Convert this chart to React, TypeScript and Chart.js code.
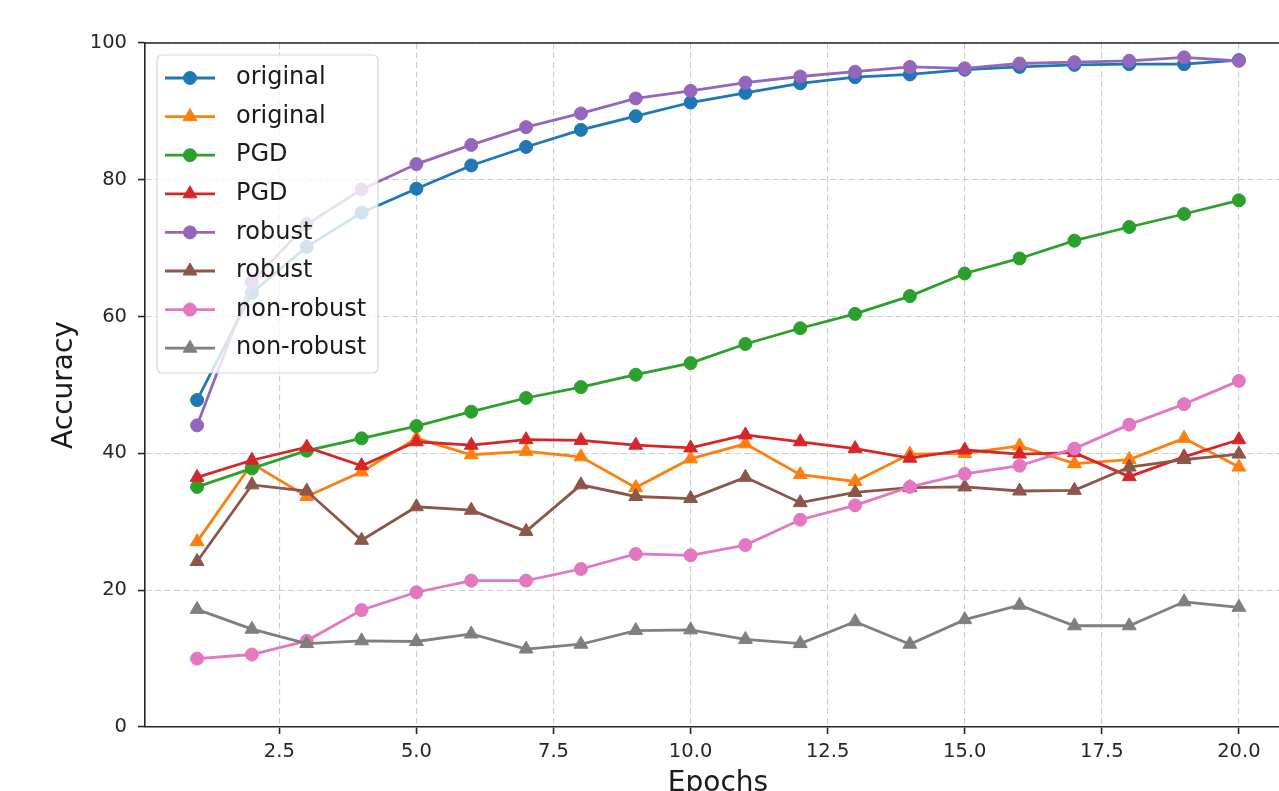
import React, { useEffect, useRef } from "react";
import { Chart, registerables } from "chart.js";

Chart.register(...registerables);

const epochs = [1, 2, 3, 4, 5, 6, 7, 8, 9, 10, 11, 12, 13, 14, 15, 16, 17, 18, 19, 20];
const xTicks = [2.5, 5, 7.5, 10, 12.5, 15, 17.5, 20];
const yTicks = [0, 20, 40, 60, 80, 100];

const originalCirc = [47.8, 63.5, 70.2, 75.2, 78.7, 82.1, 84.8, 87.3, 89.3, 91.3, 92.7, 94.1, 95.0, 95.4, 96.1, 96.5, 96.8, 96.9, 96.9, 97.5];
const originalTri = [27.1, 38.5, 33.7, 37.3, 42.2, 39.8, 40.3, 39.5, 35.0, 39.2, 41.4, 36.9, 35.9, 39.9, 40.0, 41.1, 38.5, 39.1, 42.2, 38.0];
const pgdCirc = [35.1, 37.8, 40.4, 42.2, 44.0, 46.1, 48.1, 49.7, 51.5, 53.2, 56.0, 58.3, 60.4, 63.0, 66.3, 68.5, 71.1, 73.1, 75.0, 77.0];
const pgdTri = [36.5, 39.0, 40.9, 38.2, 41.7, 41.2, 42.0, 41.9, 41.2, 40.8, 42.7, 41.7, 40.7, 39.3, 40.5, 39.9, 40.1, 36.6, 39.5, 42.0];
const robustCirc = [44.1, 65.1, 73.5, 78.6, 82.3, 85.1, 87.7, 89.7, 91.9, 93.0, 94.2, 95.1, 95.8, 96.5, 96.3, 97.0, 97.2, 97.4, 97.9, 97.4];
const robustTri = [24.2, 35.4, 34.5, 27.3, 32.2, 31.7, 28.6, 35.4, 33.7, 33.4, 36.5, 32.8, 34.3, 35.0, 35.1, 34.5, 34.6, 38.0, 39.1, 39.9];
const nonRobustCirc = [10.0, 10.6, 12.6, 17.1, 19.7, 21.4, 21.4, 23.1, 25.3, 25.1, 26.6, 30.3, 32.4, 35.1, 37.0, 38.2, 40.7, 44.2, 47.2, 50.6];
const nonRobustTri = [17.2, 14.3, 12.2, 12.6, 12.5, 13.6, 11.4, 12.1, 14.1, 14.2, 12.8, 12.2, 15.4, 12.1, 15.7, 17.8, 14.8, 14.8, 18.3, 17.5];

const seriesLabels = ["original", "original", "PGD", "PGD", "robust", "robust", "non-robust", "non-robust"];
const seriesValues = [originalCirc, originalTri, pgdCirc, pgdTri, robustCirc, robustTri, nonRobustCirc, nonRobustTri];
const seriesColors = ["#1f77b4", "#ff7f0e", "#2ca02c", "#d62728", "#9467bd", "#8c564b", "#e377c2", "#7f7f7f"];
const seriesMarkers = ["circle", "triangle", "circle", "triangle", "circle", "triangle", "circle", "triangle"];

const FONT = "'DejaVu Sans', 'Liberation Sans', sans-serif";
const CW = 1300;
const CH = 820;

function markerRadius(style: string) {
  return style === "triangle" ? 8 : 6.5;
}

const framePlugin = {
  id: "frame",
  afterDatasetsDraw(chart: any) {
    const { ctx, chartArea } = chart;
    ctx.save();
    ctx.setLineDash([]);
    ctx.strokeStyle = "#262626";
    ctx.lineWidth = 1.6;
    ctx.beginPath();
    ctx.moveTo(chartArea.left, chartArea.top);
    ctx.lineTo(chartArea.right, chartArea.top);
    ctx.lineTo(chartArea.right, chartArea.bottom);
    ctx.stroke();
    ctx.restore();
  },
};

const legendPlugin = {
  id: "mplLegend",
  afterDraw(chart: any) {
    const { ctx } = chart;
    const bx = 157, by = 55, bw = 221, bh = 318, r = 5;
    ctx.save();
    ctx.setLineDash([]);
    ctx.beginPath();
    ctx.moveTo(bx + r, by);
    ctx.lineTo(bx + bw - r, by);
    ctx.arcTo(bx + bw, by, bx + bw, by + r, r);
    ctx.lineTo(bx + bw, by + bh - r);
    ctx.arcTo(bx + bw, by + bh, bx + bw - r, by + bh, r);
    ctx.lineTo(bx + r, by + bh);
    ctx.arcTo(bx, by + bh, bx, by + bh - r, r);
    ctx.lineTo(bx, by + r);
    ctx.arcTo(bx, by, bx + r, by, r);
    ctx.closePath();
    ctx.fillStyle = "rgba(255,255,255,0.8)";
    ctx.fill();
    ctx.strokeStyle = "rgba(204,204,204,0.8)";
    ctx.lineWidth = 1.2;
    ctx.stroke();

    chart.data.datasets.forEach((ds: any, i: number) => {
      const cy = 78 + i * 38.6;
      ctx.strokeStyle = ds.borderColor;
      ctx.lineWidth = 2.8;
      ctx.beginPath();
      ctx.moveTo(165, cy);
      ctx.lineTo(215, cy);
      ctx.stroke();
      ctx.fillStyle = ds.backgroundColor;
      ctx.strokeStyle = ds.borderColor;
      ctx.lineWidth = 1;
      const st = ds.pointStyle;
      const rad = markerRadius(st);
      ctx.beginPath();
      if (st === "triangle") {
        ctx.moveTo(190, cy - rad);
        ctx.lineTo(190 + rad * Math.sin(Math.PI * 2 / 3), cy - rad * Math.cos(Math.PI * 2 / 3));
        ctx.lineTo(190 + rad * Math.sin(Math.PI * 4 / 3), cy - rad * Math.cos(Math.PI * 4 / 3));
        ctx.closePath();
      } else {
        ctx.arc(190, cy, rad, 0, Math.PI * 2);
      }
      ctx.fill();
      ctx.stroke();
      ctx.fillStyle = "#1a1a1a";
      ctx.font = `24px ${FONT}`;
      ctx.textBaseline = "middle";
      ctx.textAlign = "left";
      ctx.fillText(ds.label, 236, cy);
    });
    ctx.restore();
  },
};

export default function App() {
  const ref = useRef<HTMLCanvasElement | null>(null);

  useEffect(() => {
    if (!ref.current) return;
    const datasets = seriesValues.map((vals, i) => ({
      label: seriesLabels[i],
      data: epochs.map((e, j) => ({ x: e, y: vals[j] })),
      borderColor: seriesColors[i],
      backgroundColor: seriesColors[i],
      pointBackgroundColor: seriesColors[i],
      pointBorderColor: seriesColors[i],
      pointStyle: seriesMarkers[i],
      pointRadius: markerRadius(seriesMarkers[i]),
      pointBorderWidth: 1,
      borderWidth: 2.8,
      tension: 0,
      fill: false,
      order: -i,
    }));

    const gridCommon = {
      color: "rgba(195,195,195,0.85)",
      lineWidth: 1.1,
      tickColor: "#262626",
      tickWidth: 1.6,
      tickLength: 7,
      tickBorderDash: [],
    };
    const borderCommon = { display: true, color: "#262626", width: 1.6, dash: [6, 3.5] };

    const chart = new Chart(ref.current, {
      type: "line",
      data: { datasets },
      plugins: [framePlugin, legendPlugin],
      options: {
        animation: false,
        responsive: false,
        devicePixelRatio: 1,
        layout: { padding: { top: 43, right: 9, left: 0, bottom: 0 } },
        plugins: { legend: { display: false }, tooltip: { enabled: false } },
        scales: {
          x: {
            type: "linear",
            min: 0.05,
            max: 20.95,
            afterBuildTicks: (scale: any) => {
              scale.ticks = xTicks.map((v) => ({ value: v }));
            },
            afterFit: (scale: any) => {
              scale.height = CH - 727;
            },
            ticks: {
              font: { family: FONT, size: 19.5 },
              color: "#262626",
              padding: 6,
              maxRotation: 0,
              autoSkip: false,
              callback: (v: any) => Number(v).toFixed(1),
            },
            grid: gridCommon,
            border: borderCommon,
            title: {
              display: true,
              text: "Epochs",
              font: { family: FONT, size: 28 },
              color: "#1a1a1a",
              padding: { top: 0, bottom: 19 },
            },
          },
          y: {
            type: "linear",
            min: 0,
            max: 100,
            afterBuildTicks: (scale: any) => {
              scale.ticks = yTicks.map((v) => ({ value: v }));
            },
            afterFit: (scale: any) => {
              scale.width = 145;
            },
            ticks: {
              font: { family: FONT, size: 19.5 },
              color: "#262626",
              padding: 11,
              callback: (v: any) => String(v),
            },
            grid: gridCommon,
            border: borderCommon,
            title: {
              display: true,
              text: "Accuracy",
              font: { family: FONT, size: 28 },
              color: "#1a1a1a",
              padding: { top: 48, bottom: 0 },
            },
          },
        },
      },
    } as any);
    return () => chart.destroy();
  }, []);

  return (
    <div style={{ position: "fixed", left: 0, top: 0, width: 1279, height: 791, overflow: "hidden", background: "#fff" }}>
      <canvas ref={ref} width={CW} height={CH} style={{ display: "block", width: CW, height: CH }} />
    </div>
  );
}
